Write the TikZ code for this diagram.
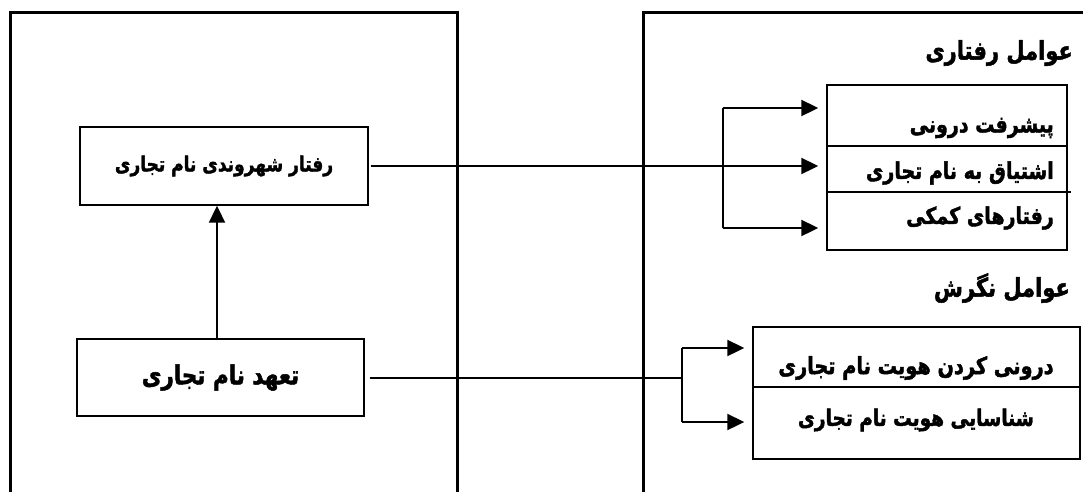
\documentclass[tikz,border=0pt]{standalone}
\usepackage{fontspec}
\usepackage{graphicx}
\usetikzlibrary{arrows.meta}
\TeXXeTstate=1
\newfontfamily\fa[Script=Arabic, UprightFont={* Bold}, FakeBold=2]{DejaVu Sans}
% right-to-left Persian text, set a little taller than the font's own shapes
\newcommand{\fatxt}[1]{\scalebox{1}[1.22]{\beginR #1\endR}}
\tikzset{
  panel/.style={draw, line width=3pt},
  box/.style={draw, line width=1.4pt, rectangle, inner sep=0pt},
  conn/.style={line width=2pt},
  tip/.style={-{Triangle[length=17pt,width=16pt]}},
  arr/.style={conn, tip, shorten >=8pt},
  lbl/.style={inner sep=0pt},
  fs/.style={font=\fa\fontsize{#1}{#1}\selectfont},
}
\begin{document}
\begin{tikzpicture}[x=1pt,y=-1pt]
\useasboundingbox (0,0) rectangle (1083,491);
\clip (0,0) rectangle (1083,491);

% two outer panels, running past the lower edge
\draw[panel] (10,12) rectangle (457,520);
\draw[panel] (643,12) rectangle (1120,520);

% left panel
\node[box, minimum width=288pt, minimum height=78pt] (rs) at (224,166) {};
\node[lbl, fs=17] (rst) at (rs.center) {\fatxt{رفتار شهروندی نام تجاری}};
\node[box, minimum width=287pt, minimum height=77pt] (tn) at (220.5,377.5) {};
\node[lbl, fs=21.5] (tnt) at (tn.center) {\fatxt{تعهد نام تجاری}};
\coordinate (ax) at (217,0);
\draw[conn, tip] (ax |- tn.north) -- (ax |- rs.south);

% right panel: behavioural factors
\node[lbl, anchor=east, fs=21] (hb) at (1073,53) {\fatxt{عوامل رفتاری}};
\node[box, minimum width=240pt, minimum height=165pt] (rb) at (947,167.5) {};
\coordinate (rd1) at (827,146);
\coordinate (rd2) at (827,192);
\draw[line width=1.4pt] (rd1) -- (rd1 -| rb.east);
\draw[line width=1.4pt] (rd2) -- ([xshift=3pt]rd2 -| rb.east);
\node[lbl, anchor=east, fs=19] (b1) at (1054,128) {\fatxt{پیشرفت درونی}};
\node[lbl, anchor=east, fs=19] (b2) at (1054,173) {\fatxt{اشتیاق به نام تجاری}};
\node[lbl, anchor=east, fs=19] (b3) at (1054,218) {\fatxt{رفتارهای کمکی}};

% right panel: attitudinal factors
\node[lbl, anchor=east, fs=21] (ha) at (1070,288) {\fatxt{عوامل نگرش}};
\node[box, minimum width=327pt, minimum height=132pt] (lb) at (916.5,393) {};
\coordinate (ld) at (753,387);
\draw[line width=1.4pt] (ld) -- (ld -| lb.east);
\node[lbl, fs=19.3] (a1) at (916,368) {\fatxt{درونی کردن هویت نام تجاری}};
\node[lbl, fs=18.5] (a2) at (916,420) {\fatxt{شناسایی هویت نام تجاری}};

% upper fork
\coordinate (ut) at (723,108);
\coordinate (ub) at (723,228);
\draw[conn] (ut) -- (ub);
\draw[arr] ([xshift=2pt]rs.east) -- (rs.east -| rb.west);
\draw[arr] (ut) -- (ut -| rb.west);
\draw[arr] (ub) -- (ub -| rb.west);

% lower fork
\coordinate (lx) at (682,0);
\coordinate (lt) at (682,348);
\coordinate (lbt) at (682,422);
\draw[conn] ([xshift=5pt]tn.east) -- (lx |- tn.east);
\draw[conn] (lt) -- (lbt);
\draw[arr] (lt) -- (lt -| lb.west);
\draw[arr] (lbt) -- (lbt -| lb.west);
\end{tikzpicture}
\end{document}
